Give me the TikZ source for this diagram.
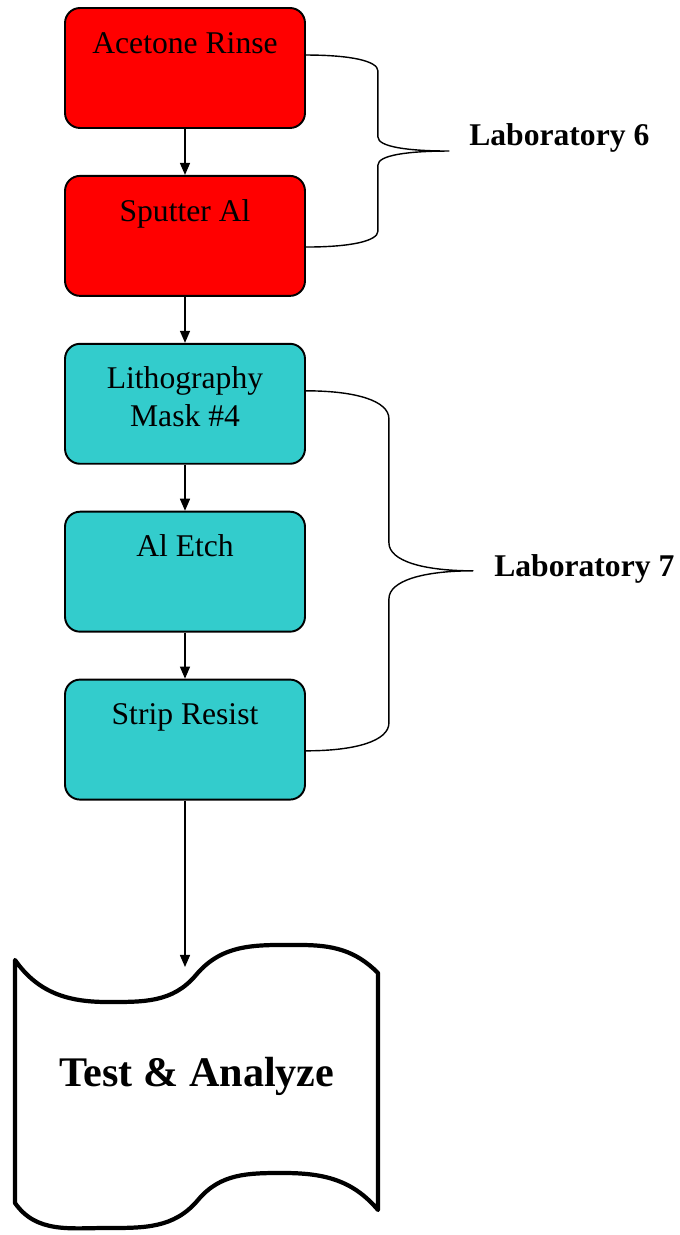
\documentclass[tikz,border=0pt]{standalone}
\usepackage{fontspec}
\setmainfont{Liberation Serif}
\usetikzlibrary{positioning,arrows.meta}
\definecolor{labred}{RGB}{255,0,0}
\definecolor{labteal}{RGB}{51,204,204}
\tikzset{
  procbox/.style={draw, line width=1.1pt, rounded corners=0.3cm, minimum width=4.8cm, minimum height=2.4cm, inner sep=0pt},
  boxtext/.style={anchor=base, inner sep=0pt, align=center, font=\fontsize{18}{22}\selectfont},
  labtext/.style={anchor=base west, inner sep=0pt, font=\fontsize{18}{21}\selectfont\bfseries},
  brace/.style={line width=0.8pt}
}
\begin{document}
\begin{tikzpicture}[x=0.02cm, y=0.02cm, node distance=0.92cm, line join=round, >={Triangle[length=0.24cm,width=0.2cm]}]
	\useasboundingbox (0,0) rectangle (680,1235);
	% process steps
	\node[procbox, fill=labred] (rinse) at (185,1167) {};
	\node[procbox, fill=labred, below=of rinse] (sputter) {};
	\node[procbox, fill=labteal, below=of sputter] (litho) {};
	\node[procbox, fill=labteal, below=of litho] (etch) {};
	\node[procbox, fill=labteal, below=of etch] (strip) {};
	\node[boxtext] (rinsetxt) at ([yshift=-0.92cm]rinse.north) {Acetone Rinse};
	\node[boxtext] (sputtertxt) at ([yshift=-0.93cm]sputter.north) {Sputter Al};
	\node[boxtext] (lithotxt) at ([yshift=-1.68cm]litho.north) {Lithography\\Mask \#4};
	\node[boxtext] (etchtxt) at ([yshift=-0.92cm]etch.north) {Al Etch};
	\node[boxtext] (striptxt) at ([yshift=-0.92cm]strip.north) {Strip Resist};
	\draw[->, line width=0.8pt] (rinse) -- (sputter);
	\draw[->, line width=0.8pt] (sputter) -- (litho);
	\draw[->, line width=0.8pt] (litho) -- (etch);
	\draw[->, line width=0.8pt] (etch) -- (strip);
	% punched tape at the end
	\draw[line width=2.4pt, fill=white] (15,275) to[out=-55,in=180] (107,233) to[out=0,in=-130] (196,260)
		to[out=50,in=180] (300,290) to[out=0,in=135] (378,262) -- (378,25)
		to[out=130,in=0] (283,62) to[out=180,in=50] (198,35) to[out=-130,in=0] (107,7)
		to[out=180,in=-55] (15,32) -- cycle;
	\node[anchor=base, font=\fontsize{24}{28}\selectfont\bfseries] (test) at (197,148) {Test \& Analyze};
	\coordinate (tapein) at (185,268);
	\draw[->, line width=0.8pt] (strip) -- (tapein);
	% braces for the two labs
	\draw[brace] ([yshift=-0.96cm]rinse.north east) .. controls +(45,0) and +(0,10) .. ++(72,-16) -- ++(0,-66)
		.. controls +(0,-10) and +(-40,0) .. ++(71,-14) coordinate (tip6)
		.. controls +(-40,0) and +(0,10) .. ++(-71,-14) -- ++(0,-66)
		.. controls +(0,-10) and +(45,0) .. ++(-72,-16);
	\draw[brace] ([yshift=-0.96cm]litho.north east) .. controls +(50,0) and +(0,18) .. ++(83,-28) -- ++(0,-124)
		.. controls +(0,-18) and +(-50,0) .. ++(84,-28) coordinate (tip7)
		.. controls +(-50,0) and +(0,18) .. ++(-84,-28) -- ++(0,-124)
		.. controls +(0,-18) and +(50,0) .. ++(-83,-28);
	\node[labtext] (lab6) at ([xshift=0.4cm,yshift=0.12cm]tip6) {Laboratory 6};
	\node[labtext] (lab7) at ([xshift=0.42cm,yshift=-0.12cm]tip7) {Laboratory 7};
\end{tikzpicture}
\end{document}
